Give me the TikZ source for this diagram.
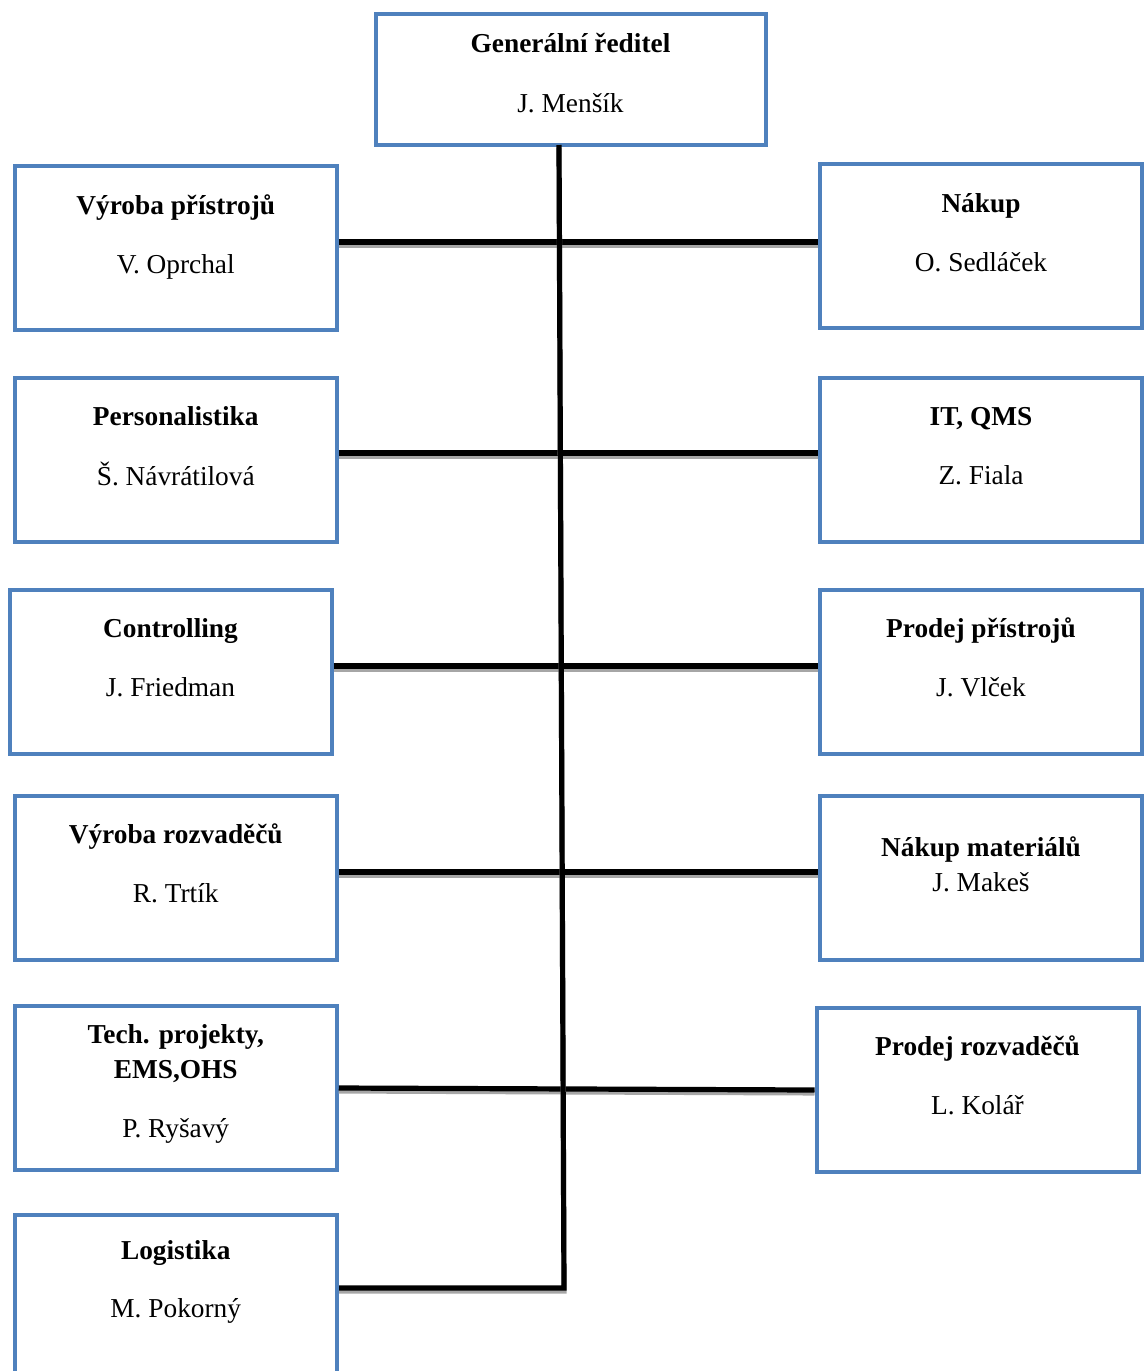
\documentclass[tikz,border=0pt]{standalone}
\usepackage{fontspec}
\setmainfont{Liberation Serif}
\definecolor{boxblue}{HTML}{4F81BD}
\begin{document}
\begin{tikzpicture}[x=0.75pt, y=-0.75pt,
    box/.style={draw=boxblue, line width=3pt, minimum width=241.5pt, minimum height=123pt, inner sep=0pt},
    unit/.style={font=\fontsize{20.5}{24}\selectfont\bfseries, anchor=base},
    person/.style={font=\fontsize{20.5}{24}\selectfont, anchor=base},
    link/.style={line width=3.9pt, preaction={draw, black!35, line width=3.9pt, transform canvas={yshift=-2.2pt}}}]
    \useasboundingbox (0,0) rectangle (1143,1371);
    % boxes
    \node[box, minimum width=292.5pt, minimum height=98.25pt] (gr) at (570.5,79.5) {};
    \node[box] (vp) at (175.75,248) {};
    \node[box] (pe) at (175.75,460) {};
    \node[box] (co) at (170.5,672) {};
    \node[box] (vr) at (175.75,878) {};
    \node[box] (tp) at (175.75,1088) {};
    \node[box] (lo) at (176,1297) {};
    \node[box] (nk) at (981,246) {};
    \node[box] (it) at (981,460) {};
    \node[box] (pp) at (981,672) {};
    \node[box] (nm) at (981,878) {};
    \node[box] (pr) at (977.5,1090) {};
    % texts
    \node[unit] (gr-t) at (570.5,52) {Generální ředitel};
    \node[person] (gr-n) at (570.5,112) {J. Menšík};
    \node[unit] (vp-t) at (175.75,214) {Výroba přístrojů};
    \node[person] (vp-n) at (175.75,273) {V. Oprchal};
    \node[unit] (pe-t) at (175.75,425) {Personalistika};
    \node[person] (pe-n) at (175.75,485) {Š. Návrátilová};
    \node[unit] (co-t) at (170.5,637) {Controlling};
    \node[person] (co-n) at (170.5,696) {J. Friedman};
    \node[unit] (vr-t) at (175.75,843) {Výroba rozvaděčů};
    \node[person] (vr-n) at (175.75,902) {R. Trtík};
    \node[unit] (tp-t) at (175.75,1043) {Tech. projekty,};
    \node[unit] (tp-u) at (175.75,1078) {EMS,OHS};
    \node[person] (tp-n) at (175.75,1137) {P. Ryšavý};
    \node[unit] (lo-t) at (175.75,1259) {Logistika};
    \node[person] (lo-n) at (175.75,1317) {M. Pokorný};
    \node[unit] (nk-t) at (981,212) {Nákup};
    \node[person] (nk-n) at (981,271) {O. Sedláček};
    \node[unit] (it-t) at (981,425) {IT, QMS};
    \node[person] (it-n) at (981,484) {Z. Fiala};
    \node[unit] (pp-t) at (981,637) {Prodej přístrojů};
    \node[person] (pp-n) at (981,696) {J. Vlček};
    \node[unit] (nm-t) at (981,856) {Nákup materiálů};
    \node[person] (nm-n) at (981,891) {J. Makeš};
    \node[unit] (pr-t) at (977.5,1055) {Prodej rozvaděčů};
    \node[person] (pr-n) at (977.5,1114) {L. Kolář};
    % connectors
    \coordinate (trunk) at (559,145);
    \coordinate (foot) at (564,1288);
    \coordinate (j1) at (560,242);
    \coordinate (j2) at (560,453);
    \coordinate (j3) at (561,666);
    \coordinate (j4) at (562,872);
    \coordinate (j5) at (563,1089);
    \draw[link] (vp.east |- j1) -- (nk.west |- j1);
    \draw[link] (pe.east |- j2) -- (it.west |- j2);
    \draw[link] (co.east |- j3) -- (pp.west |- j3);
    \draw[link] (vr.east |- j4) -- (nm.west |- j4);
    \draw[link] (tp.east |- 0,1088) -- (pr.west |- 0,1090);
    \draw[link] (trunk) -- (foot) -- (lo.east |- foot);
\end{tikzpicture}
\end{document}
